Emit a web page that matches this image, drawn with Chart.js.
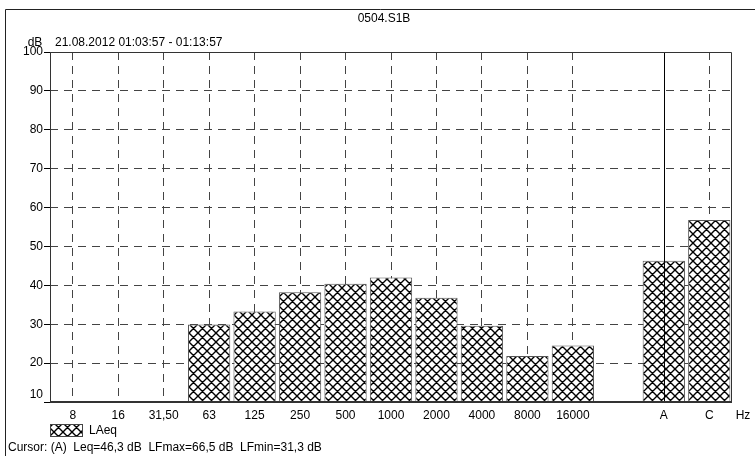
<!DOCTYPE html>
<html>
<head>
<meta charset="utf-8">
<script src="https://cdn.jsdelivr.net/npm/chart.js@4/dist/chart.umd.min.js"></script>
<style>
  body { margin: 0; background: #fff; }
  canvas { display: block; }
</style>
</head>
<body>
<canvas id="myChart" width="755" height="456"></canvas>
<script>
// Dados do gráfico
const categorias = ['8', '16', '31,50', '63', '125', '250', '500', '1000', '2000', '4000', '8000', '16000', '', 'A', 'C'];
const valoresLAeq = [null, null, null, 29.9, 33.3, 38.2, 40.4, 42.0, 36.8, 29.6, 21.8, 24.5, null, 46.3, 56.8];
const ticksY = [10, 20, 30, 40, 50, 60, 70, 80, 90, 100];

const tituloArquivo = '0504.S1B';
const periodo = '21.08.2012 01:03:57 - 01:13:57';
const unidadeY = 'dB';
const unidadeX = 'Hz';
const nomeSerie = 'LAeq';
const textoCursor = 'Cursor: (A)  Leq=46,3 dB  LFmax=66,5 dB  LFmin=31,3 dB';
const indiceCursor = 13;

const fonte = '"Liberation Sans", Arial, sans-serif';

// Hachura cruzada das barras
function criarHachura() {
    const s = 9;
    const tile = document.createElement('canvas');
    tile.width = s;
    tile.height = s;
    const c = tile.getContext('2d');
    c.fillStyle = '#fff';
    c.fillRect(0, 0, s, s);
    c.strokeStyle = '#000';
    c.lineWidth = 1.4;
    c.beginPath();
    for (let k = -1; k <= 1; k++) {
        c.moveTo(k * s, 0);
        c.lineTo(k * s + s, s);
        c.moveTo(k * s + s, 0);
        c.lineTo(k * s, s);
    }
    c.stroke();
    return c.createPattern(tile, 'repeat');
}

const padraoBarras = criarHachura();

// Moldura, textos extras, legenda e cursor
const extrasPlugin = {
    id: 'extras',
    afterDatasetsDraw(chart) {
        const ctx = chart.ctx;
        const a = chart.chartArea;
        const x = chart.scales.x.getPixelForValue(indiceCursor);
        ctx.save();
        ctx.strokeStyle = '#000';
        ctx.lineWidth = 1;
        ctx.beginPath();
        ctx.moveTo(Math.round(x) + 0.5, a.top);
        ctx.lineTo(Math.round(x) + 0.5, a.bottom);
        ctx.stroke();
        ctx.restore();
    },
    afterDraw(chart) {
        const ctx = chart.ctx;
        const a = chart.chartArea;
        ctx.save();

        // moldura externa
        ctx.strokeStyle = '#222';
        ctx.lineWidth = 1;
        ctx.beginPath();
        ctx.moveTo(5.5, 456);
        ctx.lineTo(5.5, 9.5);
        ctx.lineTo(755, 9.5);
        ctx.stroke();

        // área do gráfico
        ctx.strokeStyle = '#333';
        ctx.beginPath();
        ctx.moveTo(a.left + 0.5, a.bottom);
        ctx.lineTo(a.left + 0.5, a.top + 0.5);
        ctx.lineTo(a.right - 0.5, a.top + 0.5);
        ctx.lineTo(a.right - 0.5, a.bottom);
        ctx.stroke();
        ctx.lineWidth = 2;
        ctx.beginPath();
        ctx.moveTo(a.left, a.bottom);
        ctx.lineTo(a.right, a.bottom);
        ctx.stroke();

        ctx.fillStyle = '#000';
        ctx.font = '12px ' + fonte;
        ctx.textBaseline = 'middle';

        ctx.textAlign = 'center';
        ctx.fillText(tituloArquivo, 384, 19);
        ctx.fillText(unidadeY, 35, 43);
        ctx.fillText(unidadeX, 743, 416);

        ctx.textAlign = 'left';
        ctx.fillText(periodo, 55, 43);

        // legenda
        ctx.fillStyle = padraoBarras;
        ctx.fillRect(50, 424, 33, 12);
        ctx.strokeStyle = '#444';
        ctx.lineWidth = 1;
        ctx.strokeRect(50.5, 424.5, 32, 12);
        ctx.fillStyle = '#000';
        ctx.fillText(nomeSerie, 89, 431);

        ctx.fillText(textoCursor, 8, 448);
        ctx.restore();
    }
};

// Desenhar gráfico
function desenharGrafico() {
    const ctx = document.getElementById('myChart');
    new Chart(ctx, {
        type: 'bar',
        data: {
            labels: categorias,
            datasets: [{
                label: nomeSerie,
                data: valoresLAeq,
                backgroundColor: padraoBarras,
                borderColor: '#555',
                borderWidth: 1,
                barPercentage: 0.93,
                categoryPercentage: 1
            }]
        },
        options: {
            responsive: false,
            animation: false,
            devicePixelRatio: 1,
            layout: { padding: { top: 52, right: 23, bottom: 0, left: 0 } },
            plugins: {
                legend: { display: false },
                title: { display: false },
                tooltip: { enabled: false }
            },
            scales: {
                x: {
                    afterFit(scale) { scale.height = 54; },
                    grid: {
                        offset: false,
                        drawTicks: false,
                        color(c) {
                            return (c.index === 12 || c.index === indiceCursor) ? 'rgba(0,0,0,0)' : '#444';
                        },
                        lineWidth: 1
                    },
                    border: { display: false, dash: [8, 6] },
                    ticks: {
                        color: '#000',
                        padding: 6,
                        maxRotation: 0,
                        autoSkip: false,
                        font: { family: fonte, size: 12 }
                    }
                },
                y: {
                    min: 10,
                    max: 100,
                    afterFit(scale) { scale.width = 50; },
                    afterBuildTicks(scale) {
                        scale.ticks = ticksY.map(v => ({ value: v }));
                    },
                    grid: {
                        color: '#444',
                        lineWidth: 1,
                        drawTicks: true,
                        tickLength: 6,
                        tickColor: '#000',
                        tickBorderDash: []
                    },
                    border: { display: false, dash: [8, 6] },
                    ticks: {
                        color: '#000',
                        padding: 1,
                        font: { family: fonte, size: 12 },
                        // o rótulo de baixo fica um pouco acima da linha
                        callback(v) { return v === 10 ? ['10', ''] : String(v); }
                    }
                }
            }
        },
        plugins: [extrasPlugin]
    });
}

desenharGrafico();
</script>
</body>
</html>
